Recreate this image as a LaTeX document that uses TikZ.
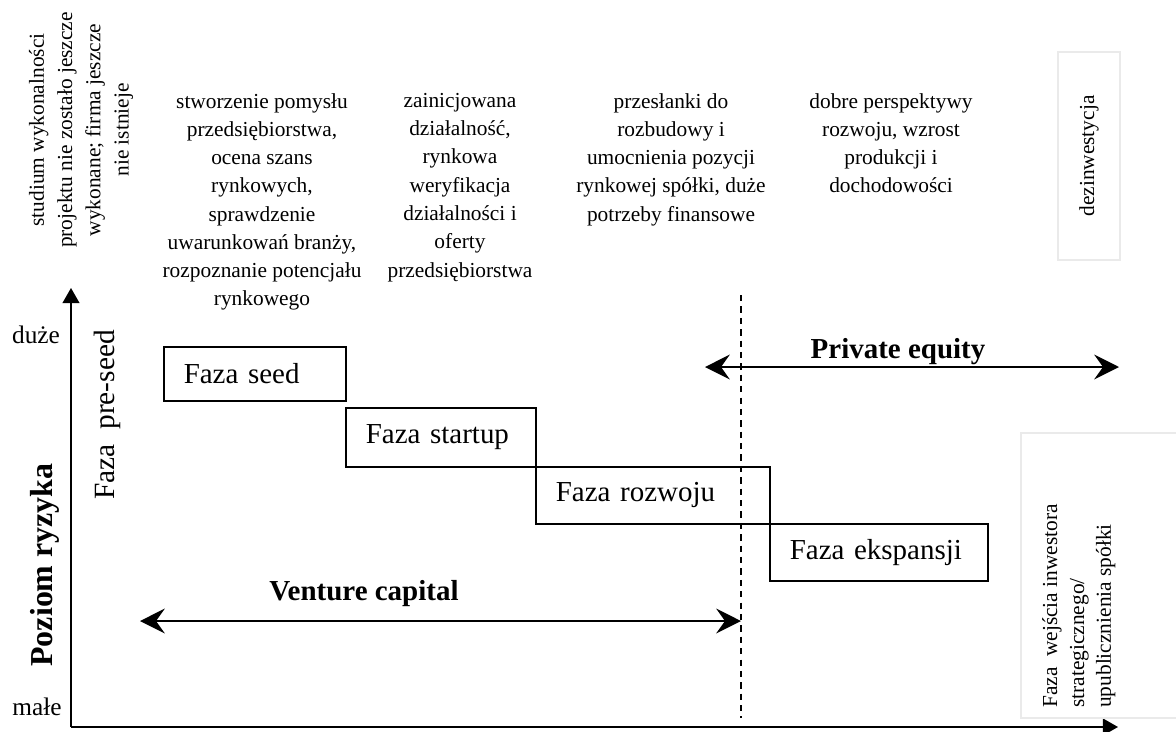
\documentclass[tikz,border=0pt]{standalone}
\usepackage{fontspec}
\setmainfont{Liberation Serif}
\usetikzlibrary{arrows.meta}
\definecolor{ramka}{RGB}{234,234,234}

\begin{document}
\begin{tikzpicture}[x=0.025cm, y=-0.025cm,
    opis/.style={font=\fontsize{15.2pt}{20.1pt}\selectfont, align=center, inner sep=0pt},
    faza/.style={draw, line width=1.1pt, anchor=north west, align=left, inner xsep=0.5cm,
        inner ysep=0pt, text width=#1, font=\fontsize{20.6pt}{24pt}\selectfont},
    kapital/.style={font=\bfseries\fontsize{20.6pt}{24pt}\selectfont, inner sep=0pt},
    dwa/.style={line width=1.3pt, {Stealth[length=0.62cm, width=0.62cm, inset=0.22cm]}-{Stealth[length=0.62cm, width=0.62cm, inset=0.22cm]}},
    os/.style={line width=1.4pt, -{Triangle[length=0.38cm, width=0.42cm]}}]
    \useasboundingbox (0,0) rectangle (1176,731);
    \coordinate (O) at (71,727);
    \coordinate (Y) at (71,288);
    \coordinate (X) at (1118,727);
    \coordinate (D1) at (741,295);
    \coordinate (D2) at (741,718);
    \coordinate (PE1) at (705,367);
    \coordinate (PE2) at (1119,367);
    \coordinate (VC1) at (140,621);
    \coordinate (VC2) at (741,621);
    \draw[os] (O) -- (Y);
    \draw[os] (O) -- (X);
    \draw[line width=0.9pt, dash pattern=on 4.5pt off 3.6pt] (D1) -- (D2);
    \draw[dwa] (PE1) -- (PE2);
    \draw[dwa] (VC1) -- (VC2);
    \node[kapital] (pe) at (898,352) {Private equity};
    \node[kapital] (vc) at (364,594) {Venture capital};
    \node[faza=3.55cm, minimum height=1.35cm] (seed) at (163,346) {Faza seed};
    \node[faza=3.75cm, minimum height=1.475cm] (startup) at (345,407) {Faza startup};
    \node[faza=4.85cm, minimum height=1.425cm] (rozwoj) at (535,466) {Faza rozwoju};
    \node[faza=4.45cm, minimum height=1.425cm] (ekspansja) at (769,523) {Faza ekspansji};
    \node[font=\fontsize{18pt}{20pt}\selectfont, inner sep=0pt] (duze) at (36,335) {duże};
    \node[font=\fontsize{18pt}{20pt}\selectfont, inner sep=0pt] (male) at (37,707) {małe};
    \node[rotate=90, font=\bfseries\fontsize{22.7pt}{26pt}\selectfont, inner sep=0pt] (ryzyko) at (45,565) {Poziom ryzyka};
    \node[rotate=90, font=\fontsize{20.9pt}{24pt}\selectfont, inner sep=0pt] (preseed) at (107,415) {Faza\ \ pre-seed};
    \node[opis, rotate=90] (studium) at (81,130) {studium wykonalności\\projektu nie zostało jeszcze\\wykonane; firma jeszcze\\nie istnieje};
    \node[opis, anchor=north] (pomysl) at (262,93) {stworzenie pomysłu\\przedsiębiorstwa,\\ocena szans\\rynkowych,\\sprawdzenie\\uwarunkowań branży,\\rozpoznanie potencjału\\rynkowego};
    \node[opis, anchor=north] (dzialalnosc) at (460,93) {zainicjowana\\działalność,\\rynkowa\\weryfikacja\\działalności i\\oferty\\przedsiębiorstwa};
    \node[opis, anchor=north] (rozbudowa) at (671,93) {przesłanki do\\rozbudowy i\\umocnienia pozycji\\rynkowej spółki, duże\\potrzeby finansowe};
    \node[opis, anchor=north] (perspektywy) at (891,93) {dobre perspektywy\\rozwoju, wzrost\\produkcji i\\dochodowości};
    \node[opis, rotate=90, draw=ramka, line width=0.8pt, minimum width=5.2cm, minimum height=1.55cm] (dezinwestycja) at (1089,156) {dezinwestycja};
    \draw[ramka, line width=0.8pt] (1190,433) -- (1021,433) -- (1021,718) -- (1190,718);
    \node[opis, rotate=90, align=left, anchor=north west, font=\fontsize{15.2pt}{19.1pt}\selectfont] (wyjscie) at (1042,708) {Faza\ \ wejścia inwestora\\strategicznego/\\upublicznienia spółki};
\end{tikzpicture}
\end{document}
